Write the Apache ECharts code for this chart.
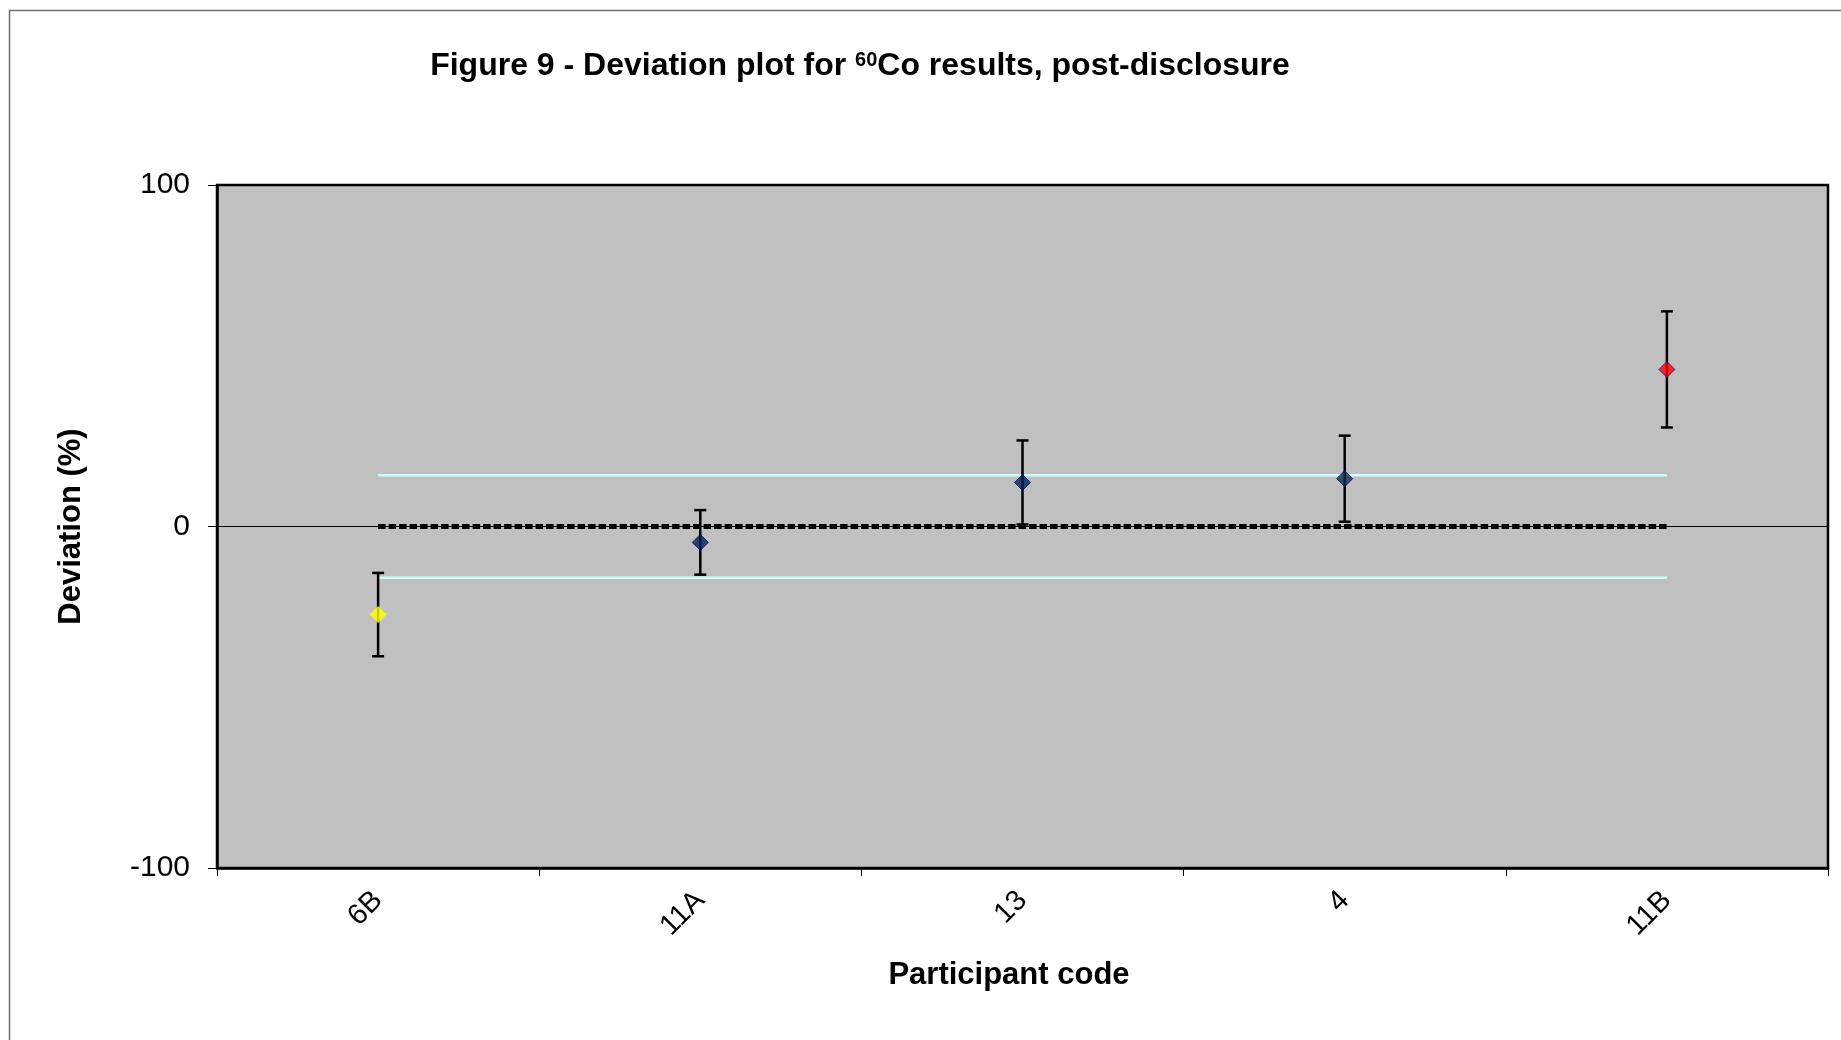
<!DOCTYPE html>
<html>
<head>
<meta charset="utf-8">
<title>Deviation plot for 60Co results</title>
<script src="https://cdn.jsdelivr.net/npm/echarts@6/dist/echarts.min.js"></script>
<style>
  html, body { margin: 0; padding: 0; background: #ffffff; }
  #chart { width: 1841px; height: 1040px; }
</style>
</head>
<body>
<div id="chart"></div>
<script>
// Participant codes along the x axis
const categories = ['6B', '11A', '13', '4', '11B'];
// Deviation from the reference value (%)
const deviation = [-25.8, -4.65, 12.9, 14.0, 46.0];
// Expanded uncertainty of each deviation (%), drawn as symmetric error bars
const uncertainty = [12.2, 9.45, 12.3, 12.6, 17.0];
// Acceptance band and target line
const upperLimit = [15, 15, 15, 15, 15];
const lowerLimit = [-15, -15, -15, -15, -15];
const target = [0, 0, 0, 0, 0];
// Value axis range and tick step
const yMin = -100;
const yMax = 100;
const yStep = 100;

// Marker fill per participant (yellow / navy / red status colouring)
const markerFill = ['#ffff00', '#02205f', '#02205f', '#122a50', '#ff0000'];
const markerEdge = ['#ffff00', '#000a66', '#000a66', '#000a66', '#14148a'];

const FONT = '"Liberation Sans", Arial, sans-serif';

const chart = echarts.init(document.getElementById('chart'), null, { renderer: 'canvas' });

const errorData = categories.map((c, i) => [i, deviation[i], uncertainty[i]]);
const pointData = categories.map((c, i) => ({
  value: [i, deviation[i]],
  itemStyle: { color: markerFill[i], borderColor: markerEdge[i], borderWidth: 1 }
}));

chart.setOption({
  animation: false,
  backgroundColor: '#ffffff',
  title: {
    text: '{b|Figure 9 - Deviation plot for }{sup|60}{b|Co results, post-disclosure}',
    left: 855,
    top: 45,
    textAlign: 'center',
    textStyle: {
      rich: {
        b: { fontFamily: FONT, fontWeight: 'bold', fontSize: 32, color: '#000' },
        sup: { fontFamily: FONT, fontWeight: 'bold', fontSize: 20, color: '#000', padding: [0, 0, 13, 0] }
      }
    }
  },
  graphic: [
    {
      type: 'rect',
      silent: true,
      shape: { x: 9.5, y: 10.5, width: 2400, height: 2400 },
      style: { fill: 'none', stroke: '#6f6f6f', lineWidth: 1.5 }
    },
    {
      type: 'text',
      silent: true,
      x: 1009,
      y: 975,
      style: {
        text: 'Participant code',
        font: 'bold 31px ' + FONT,
        fill: '#000',
        textAlign: 'center',
        textVerticalAlign: 'middle'
      }
    }
  ],
  grid: {
    left: 217,
    right: 13,
    top: 185,
    bottom: 172,
    show: true,
    backgroundColor: '#c0c0c0',
    borderColor: '#000000',
    borderWidth: 2.5
  },
  xAxis: {
    type: 'category',
    data: categories,
    boundaryGap: true,
    axisLine: { show: true, onZero: false, lineStyle: { color: '#000', width: 2.5 } },
    axisTick: { show: true, inside: false, length: 8, lineStyle: { color: '#000', width: 1 } },
    axisLabel: {
      rotate: 45,
      margin: 28,
      fontFamily: FONT,
      fontSize: 29,
      color: '#000'
    },
    splitLine: { show: false }
  },
  yAxis: {
    type: 'value',
    min: yMin,
    max: yMax,
    interval: yStep,
    name: 'Deviation (%)',
    nameLocation: 'middle',
    nameGap: 130,
    nameTextStyle: { fontFamily: FONT, fontWeight: 'bold', fontSize: 31, color: '#000' },
    axisLine: { show: true, lineStyle: { color: '#000', width: 2.5 } },
    axisTick: { show: true, inside: false, length: 9, lineStyle: { color: '#000', width: 1 } },
    axisLabel: { margin: 27, fontFamily: FONT, fontSize: 30, color: '#000' },
    splitLine: { show: true, lineStyle: { color: '#000', width: 1 } }
  },
  series: [
    {
      name: 'Upper limit',
      type: 'line',
      data: upperLimit,
      symbol: 'none',
      silent: true,
      z: 2,
      lineStyle: { color: '#ccffff', width: 2.5 }
    },
    {
      name: 'Lower limit',
      type: 'line',
      data: lowerLimit,
      symbol: 'none',
      silent: true,
      z: 2,
      lineStyle: { color: '#ccffff', width: 2.5 }
    },
    {
      name: 'Target',
      type: 'line',
      data: target,
      symbol: 'none',
      silent: true,
      z: 3,
      lineStyle: { color: '#000', width: 5, type: [7.5, 3] }
    },
    {
      name: 'Uncertainty',
      type: 'custom',
      data: errorData,
      z: 4,
      silent: true,
      renderItem: function (params, api) {
        const i = api.value(0);
        const v = api.value(1);
        const e = api.value(2);
        const hi = api.coord([i, v + e]);
        const lo = api.coord([i, v - e]);
        const half = 6;
        const style = { stroke: '#000', lineWidth: 2.5, fill: 'none' };
        return {
          type: 'group',
          children: [
            { type: 'line', shape: { x1: hi[0], y1: hi[1], x2: lo[0], y2: lo[1] }, style: style },
            { type: 'line', shape: { x1: hi[0] - half, y1: hi[1], x2: hi[0] + half, y2: hi[1] }, style: style },
            { type: 'line', shape: { x1: lo[0] - half, y1: lo[1], x2: lo[0] + half, y2: lo[1] }, style: style }
          ]
        };
      }
    },
    {
      name: 'Deviation',
      type: 'scatter',
      data: pointData,
      symbol: 'diamond',
      symbolSize: 16,
      z: 5
    }
  ]
});
</script>
</body>
</html>
